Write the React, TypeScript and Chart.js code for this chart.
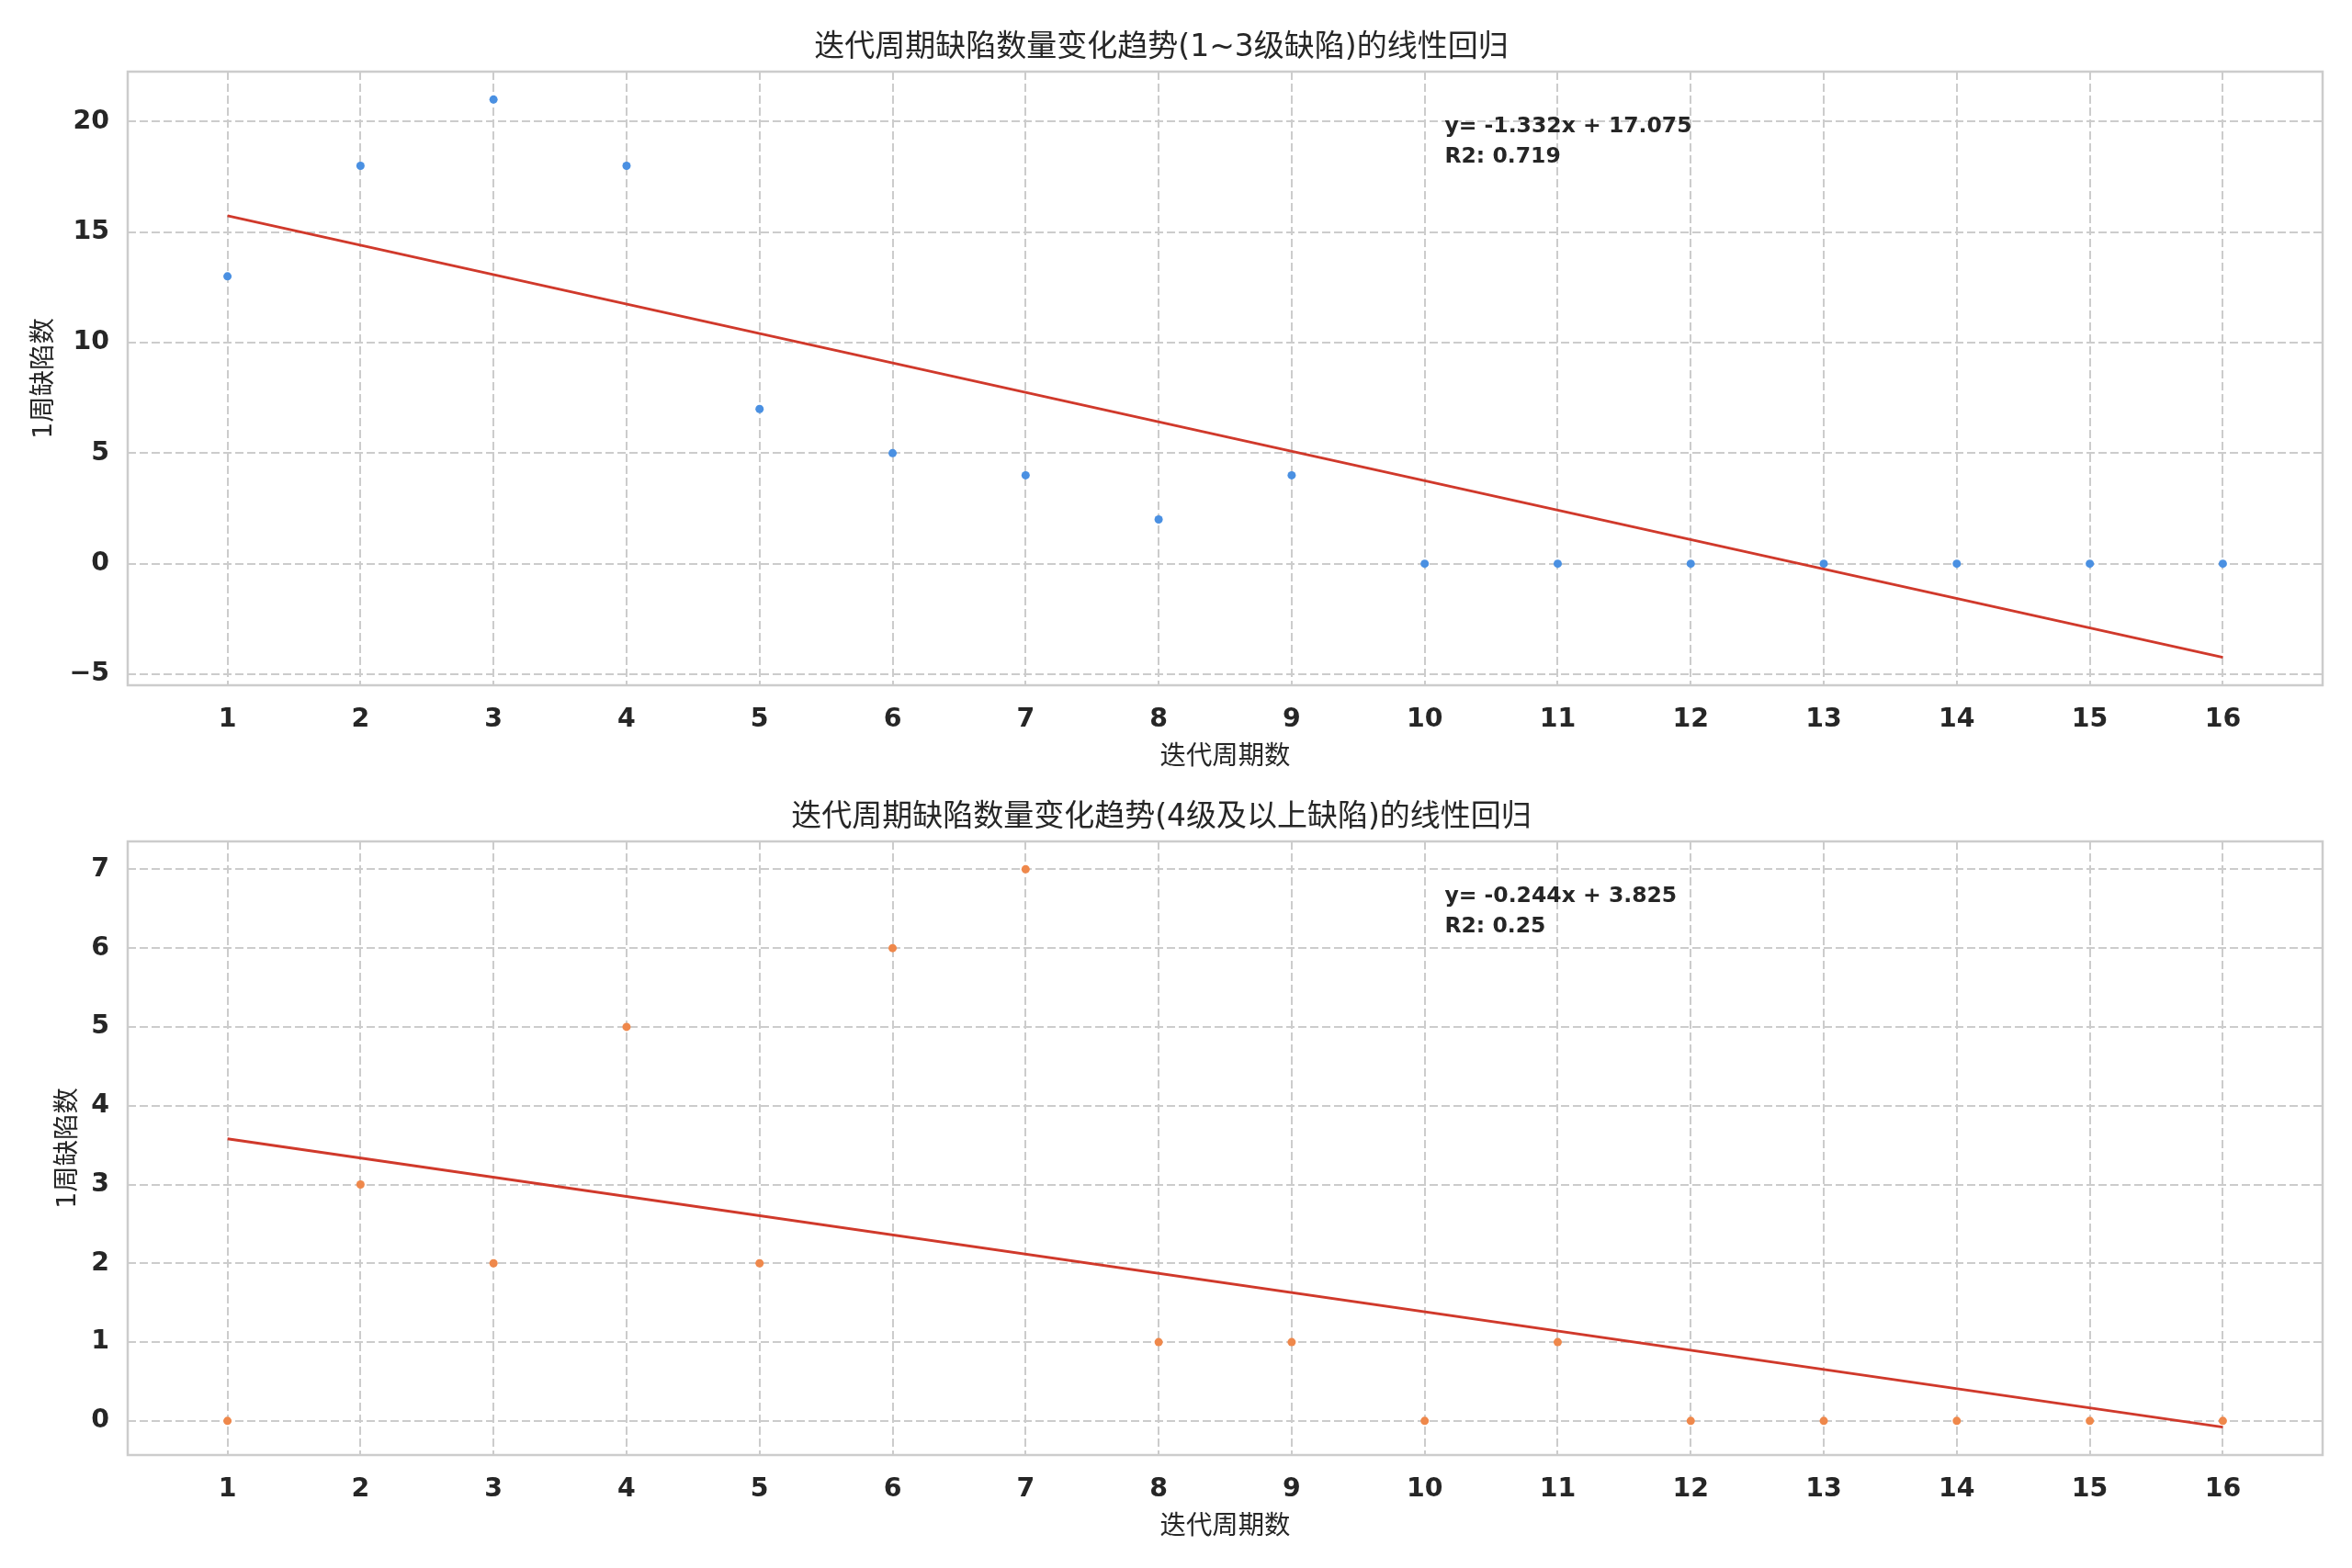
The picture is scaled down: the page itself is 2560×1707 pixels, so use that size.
import React, { useEffect, useRef } from "react";
import { Chart, registerables } from "chart.js";

Chart.register(...registerables);

// ---------- data ----------
const X_VALUES = [1, 2, 3, 4, 5, 6, 7, 8, 9, 10, 11, 12, 13, 14, 15, 16];
const TOP_COUNTS = [13, 18, 21, 18, 7, 5, 4, 2, 4, 0, 0, 0, 0, 0, 0, 0];
const BOTTOM_COUNTS = [0, 3, 2, 5, 2, 6, 7, 1, 1, 0, 1, 0, 0, 0, 0, 0];

const TOP_FIT = [-1.332, 17.075]; // slope, intercept
const TOP_R2 = "0.719";
const BOTTOM_FIT = [-0.244, 3.825];
const BOTTOM_R2 = "0.25";

const X_TICKS = [1, 2, 3, 4, 5, 6, 7, 8, 9, 10, 11, 12, 13, 14, 15, 16];
const TOP_Y_TICKS = [-5, 0, 5, 10, 15, 20];
const BOTTOM_Y_TICKS = [0, 1, 2, 3, 4, 5, 6, 7];

const TOP_TITLE = "迭代周期缺陷数量变化趋势(1~3级缺陷)的线性回归";
const BOTTOM_TITLE = "迭代周期缺陷数量变化趋势(4级及以上缺陷)的线性回归";
const X_LABEL = "迭代周期数";
const Y_LABEL = "1周缺陷数";

// ---------- styling ----------
const FONT = "'DejaVu Sans', 'Noto Sans CJK SC', sans-serif";
const TEXT = "#262626";
const GRID = "#cccccc";
const LINE_RED = "#d0392b";

type Panel = {
  top: number;
  height: number;
  title: string;
  counts: number[];
  fit: number[];
  r2: string;
  yTicks: number[];
  color: string;
  titlePad: [number, number];
  yTitlePad: number;
  xAxisHeight: number;
  xTitlePadBottom: number;
};

const PANELS: Panel[] = [
  {
    top: 0,
    height: 853,
    title: TOP_TITLE,
    counts: TOP_COUNTS,
    fit: TOP_FIT,
    r2: TOP_R2,
    yTicks: TOP_Y_TICKS,
    color: "#4a90e2",
    titlePad: [33, 5.4],
    yTitlePad: 32,
    xAxisHeight: 107,
    xTitlePadBottom: 11.2,
  },
  {
    top: 853,
    height: 854,
    title: BOTTOM_TITLE,
    counts: BOTTOM_COUNTS,
    fit: BOTTOM_FIT,
    r2: BOTTOM_R2,
    yTicks: BOTTOM_Y_TICKS,
    color: "#ef884b",
    titlePad: [17.5, 5.9],
    yTitlePad: 58,
    xAxisHeight: 123,
    xTitlePadBottom: 27.2,
  },
];

const framePlugin = {
  id: "frame",
  beforeDatasetsDraw(chart: any) {
    const { ctx, chartArea: a } = chart;
    ctx.save();
    ctx.strokeStyle = GRID;
    ctx.lineWidth = 2.5;
    ctx.setLineDash([]);
    ctx.strokeRect(a.left, a.top, a.right - a.left, a.bottom - a.top);
    ctx.restore();
  },
};

const makeAnnotationPlugin = (fit: number[], r2: string) => ({
  id: "fitText",
  afterDatasetsDraw(chart: any) {
    const { ctx, chartArea: a } = chart;
    const x = a.left + 0.6 * (a.right - a.left);
    ctx.save();
    ctx.fillStyle = TEXT;
    ctx.font = `bold 23.5px ${FONT}`;
    ctx.textAlign = "left";
    ctx.textBaseline = "middle";
    ctx.fillText(`y= ${fit[0]}x + ${fit[1]}`, x, a.top + 60);
    ctx.fillText(`R2: ${r2}`, x, a.top + 93);
    ctx.restore();
  },
});

function PanelChart({ p }: { p: Panel }) {
  const ref = useRef<HTMLCanvasElement>(null);
  useEffect(() => {
    if (!ref.current) return;
    const [slope, intercept] = p.fit;
    const x0 = X_VALUES[0];
    const x1 = X_VALUES[X_VALUES.length - 1];
    const linePts = [
      { x: x0, y: slope * x0 + intercept },
      { x: x1, y: slope * x1 + intercept },
    ];
    const allY = p.counts.concat(linePts.map((d) => d.y));
    const yMin = Math.min(...allY);
    const yMax = Math.max(...allY);
    const yM = (yMax - yMin) * 0.05;
    const xM = (x1 - x0) * 0.05;

    const tickFont = { family: FONT, size: 28.4, weight: "bold" as const };
    const labelFont = { family: FONT, size: 28.4 };

    const chart = new Chart(ref.current, {
      type: "scatter",
      data: {
        datasets: [
          {
            type: "line",
            data: linePts,
            borderColor: LINE_RED,
            borderWidth: 3,
            pointRadius: 0,
            fill: false,
            order: 0,
          } as any,
          {
            data: X_VALUES.map((x, i) => ({ x, y: p.counts[i] })),
            backgroundColor: p.color,
            borderWidth: 0,
            pointRadius: 4.5,
            order: 1,
          },
        ],
      },
      options: {
        animation: false,
        responsive: false,
        devicePixelRatio: 1,
        layout: { padding: { left: 0, right: 32, top: 0, bottom: 0 } },
        plugins: {
          legend: { display: false },
          tooltip: { enabled: false },
          title: {
            display: true,
            text: p.title,
            color: TEXT,
            font: { family: FONT, size: 33, weight: "normal" },
            padding: { top: p.titlePad[0], bottom: p.titlePad[1] },
          },
        },
        scales: {
          x: {
            type: "linear",
            min: x0 - xM,
            max: x1 + xM,
            afterBuildTicks: (s: any) => {
              s.ticks = X_TICKS.map((v) => ({ value: v }));
            },
            afterFit: (s: any) => {
              s.height = p.xAxisHeight;
            },
            ticks: {
              color: TEXT,
              font: tickFont,
              padding: 21,
              maxRotation: 0,
              autoSkip: false,
              callback: (v: any) => String(v),
            },
            grid: { color: GRID, lineWidth: 2, drawTicks: false },
            border: { display: false, dash: [9, 4] },
            title: {
              display: true,
              text: X_LABEL,
              color: TEXT,
              font: labelFont,
              padding: { top: 0, bottom: p.xTitlePadBottom },
            },
          },
          y: {
            type: "linear",
            min: yMin - yM,
            max: yMax + yM,
            afterBuildTicks: (s: any) => {
              s.ticks = p.yTicks.map((v) => ({ value: v }));
            },
            afterFit: (s: any) => {
              s.width = 139;
            },
            ticks: {
              color: TEXT,
              font: tickFont,
              padding: 20,
              autoSkip: false,
              callback: (v: any) => (Number(v) < 0 ? "\u2212" + Math.abs(Number(v)) : String(v)),
            },
            grid: { color: GRID, lineWidth: 2, drawTicks: false },
            border: { display: false, dash: [9, 4] },
            title: {
              display: true,
              text: Y_LABEL,
              color: TEXT,
              font: labelFont,
              padding: { top: p.yTitlePad, bottom: 0 },
            },
          },
        },
      },
      plugins: [framePlugin, makeAnnotationPlugin(p.fit, p.r2)],
    });
    return () => chart.destroy();
  }, [p]);

  return (
    <canvas
      ref={ref}
      width={2560}
      height={p.height}
      style={{ position: "absolute", left: 0, top: p.top, width: 2560, height: p.height, display: "block" }}
    />
  );
}

export default function App() {
  return (
    <div
      style={{
        position: "absolute",
        left: 0,
        top: 0,
        width: 2560,
        height: 1707,
        background: "#ffffff",
        overflow: "hidden",
      }}
    >
      {PANELS.map((p, i) => (
        <PanelChart key={i} p={p} />
      ))}
    </div>
  );
}
